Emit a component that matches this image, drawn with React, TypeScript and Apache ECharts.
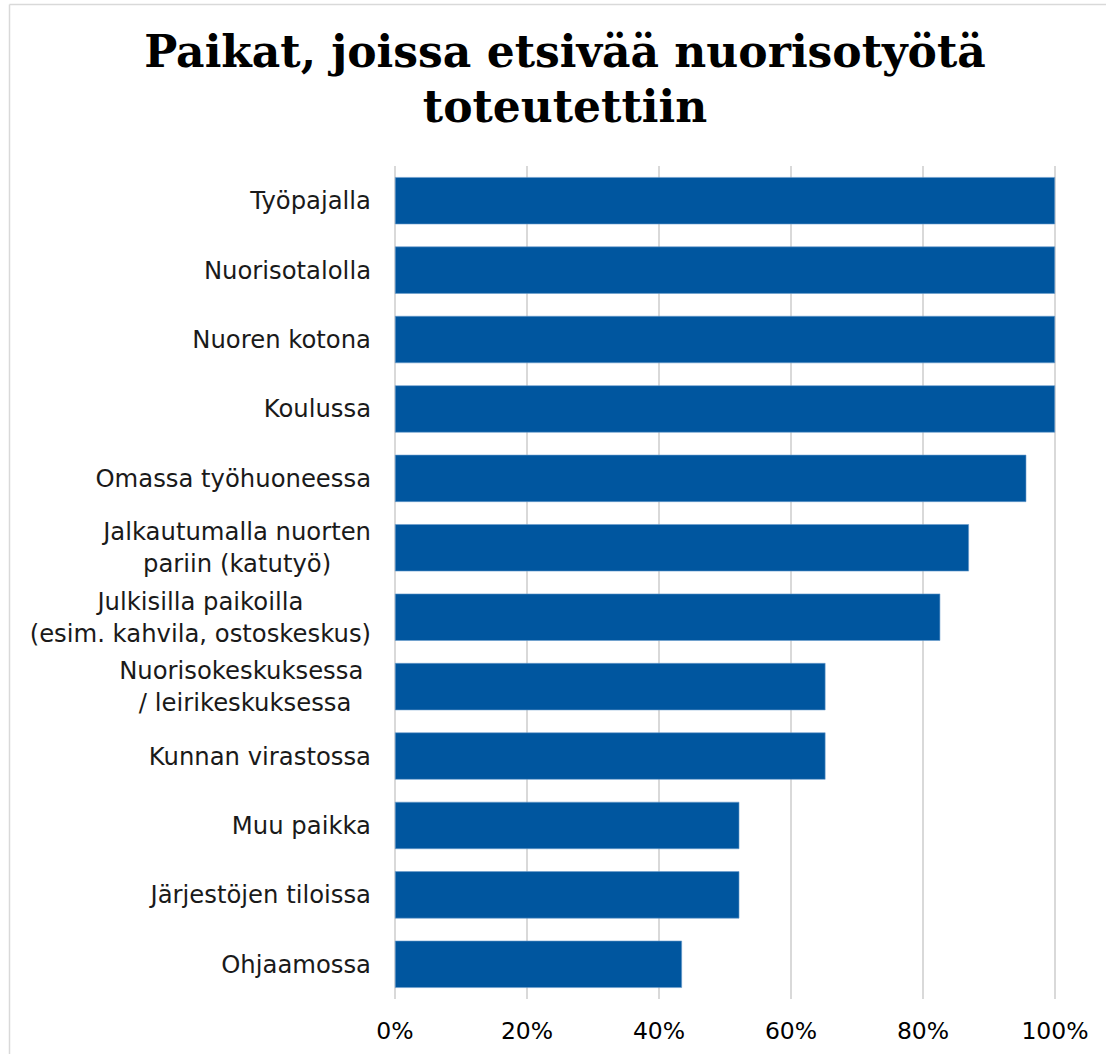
import React, { useEffect, useRef } from "react";
import * as echarts from "echarts";

const titleLines = ["Paikat, joissa etsivää nuorisotyötä", "toteutettiin"];
const categories = [
  "Työpajalla",
  "Nuorisotalolla",
  "Nuoren kotona",
  "Koulussa",
  "Omassa työhuoneessa",
  "Jalkautumalla nuorten\npariin (katutyö)",
  "Julkisilla paikoilla\n(esim. kahvila, ostoskeskus)",
  "Nuorisokeskuksessa \n/ leirikeskuksessa",
  "Kunnan virastossa",
  "Muu paikka",
  "Järjestöjen tiloissa",
  "Ohjaamossa",
];
const values = [100, 100, 100, 100, 95.65, 86.96, 82.61, 65.22, 65.22, 52.17, 52.17, 43.48];
const xMin = 0;
const xMax = 100;
const xInterval = 20;

export default function App() {
  const ref = useRef<HTMLDivElement>(null);
  useEffect(() => {
    if (!ref.current) return;
    const chart = echarts.init(ref.current, undefined, { renderer: "svg" });
    chart.setOption({
      animation: false,
      backgroundColor: "#ffffff",
      title: {
        text: titleLines.join("\n"),
        left: 560,
        top: 19,
        textAlign: "center",
        textStyle: {
          fontFamily: "DejaVu Serif",
          fontWeight: "bold",
          fontSize: 44,
          lineHeight: 55,
          color: "#000000",
        },
      },
      graphic: [
        {
          type: "line",
          shape: { x1: 9.5, y1: 4.5, x2: 1106, y2: 4.5 },
          style: { stroke: "#d9d9d9", lineWidth: 1.5 },
        },
        {
          type: "line",
          shape: { x1: 9.5, y1: 4.5, x2: 9.5, y2: 1054 },
          style: { stroke: "#d9d9d9", lineWidth: 1.5 },
        },
      ],
      grid: { left: 395, right: 51, top: 166, bottom: 55, containLabel: false },
      xAxis: {
        type: "value",
        min: xMin,
        max: xMax,
        interval: xInterval,
        axisLine: { show: false },
        axisTick: { show: false },
        splitLine: { show: true, lineStyle: { color: "#d9d9d9", width: 2 } },
        axisLabel: {
          formatter: (v: number) => v + "%",
          fontFamily: "DejaVu Sans",
          fontSize: 23.5,
          color: "#000000",
          margin: 20,
        },
      },
      yAxis: {
        type: "category",
        data: categories,
        inverse: true,
        axisLine: { show: false },
        axisTick: { show: false },
        axisLabel: {
          align: "right",
          margin: 24,
          formatter: (v: string) =>
            v
              .split("\n")
              .map((l) => `{c|${l}}`)
              .join("\n"),
          rich: {
            c: {
              align: "center",
              fontFamily: "DejaVu Sans",
              fontSize: 24.3,
              lineHeight: 32,
              color: "#1a1a1a",
            },
          },
        },
      },
      series: [
        {
          type: "bar",
          data: values,
          barCategoryGap: "32%",
          itemStyle: { color: "#00569f", borderColor: "#6a9ccc", borderWidth: 0.6 },
        },
      ],
    });
    return () => chart.dispose();
  }, []);
  return (
    <div
      ref={ref}
      style={{ position: "fixed", left: 0, top: 0, width: 1106, height: 1054 }}
    />
  );
}
